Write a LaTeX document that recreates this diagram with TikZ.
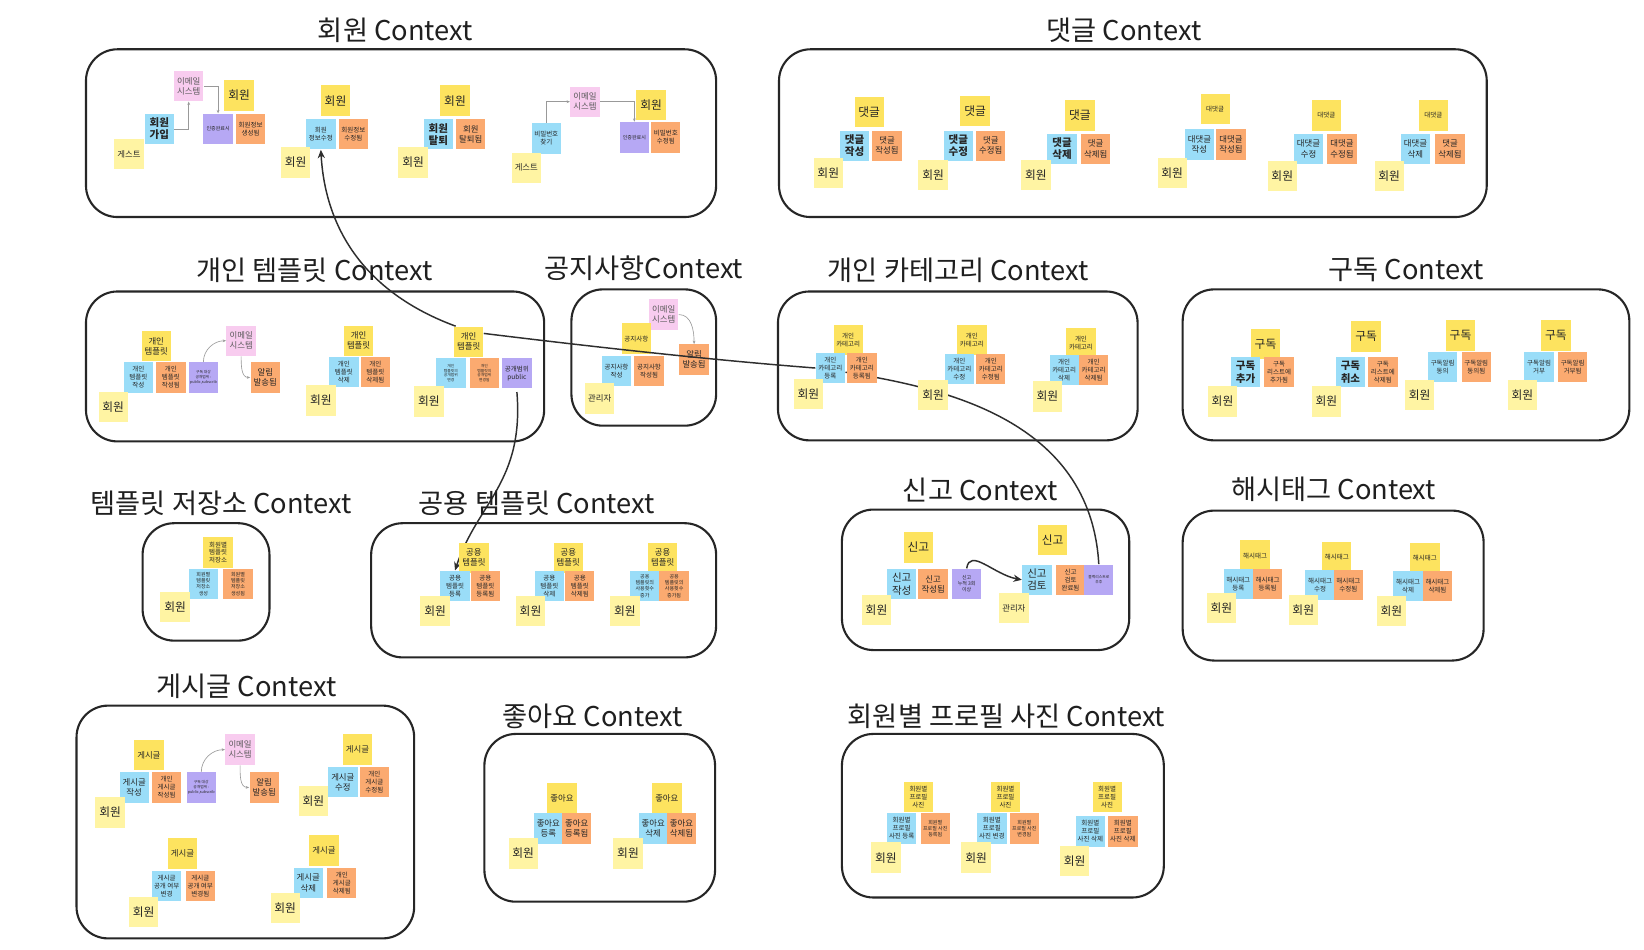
\documentclass[tikz,border=0pt]{standalone}
\usepackage{fontspec}
\setmainfont{Noto Sans CJK KR}
\usetikzlibrary{arrows.meta}
\pgfdeclarelayer{bg}
\pgfsetlayers{bg,main}
\definecolor{cEnt}{HTML}{FDE35F}
\definecolor{cAct}{HTML}{FFF4A3}
\definecolor{cCmd}{HTML}{9ADDF8}
\definecolor{cEvt}{HTML}{FBAA70}
\definecolor{cPol}{HTML}{B6A8F4}
\definecolor{cExt}{HTML}{F8CCEF}
\newcommand\szXL{\fontsize{5.6pt}{6.4pt}\selectfont}
\newcommand\szL{\fontsize{5.0pt}{5.8pt}\selectfont}
\newcommand\szM{\fontsize{4.0pt}{4.8pt}\selectfont}
\newcommand\szS{\fontsize{3.1pt}{3.8pt}\selectfont}
\newcommand\szT{\fontsize{2.4pt}{2.9pt}\selectfont}
\newcommand\szU{\fontsize{1.8pt}{2.2pt}\selectfont}
\tikzset{
  note/.style={minimum width=14pt, minimum height=14.5pt, inner sep=0.2pt, align=center, text=black!85},
  ent/.style={note, fill=cEnt},
  act/.style={note, fill=cAct},
  cmd/.style={note, fill=cCmd},
  evt/.style={note, fill=cEvt},
  pol/.style={note, fill=cPol},
  ext/.style={note, fill=cExt, text=black!65},
  fxl/.style={font=\szXL},
  fl/.style={font=\szL},
  flb/.style={font=\szL\bfseries},
  fm/.style={font=\szM},
  fs/.style={font=\szS},
  ft/.style={font=\szT},
  fu/.style={font=\szU},
  ctxframe/.style={draw=black!85, line width=1pt, rounded corners=15pt},
  ttl/.style={font=\fontsize{13pt}{15pt}\selectfont, text=black!88},
  lnk/.style={draw=black!40, line width=0.3pt, -{Stealth[length=1.6pt,width=1.3pt]}},
  flow/.style={draw=black!82, line width=0.7pt},
  flowarr/.style={flow, -{Stealth[length=4pt,width=3.4pt]}}
}
\begin{document}
\begin{tikzpicture}[x=0.5pt,y=-0.5pt]
\useasboundingbox (0,0) rectangle (1568,906);

% ---------- titles ----------
\node[ttl] (T1) at (377,29) {회원 Context};
\node[ttl] (T2) at (1072,29) {댓글 Context};
\node[ttl] (T3) at (300,258) {개인 템플릿 Context};
\node[ttl] (T4) at (614,256) {공지사항Context};
\node[ttl] (T5) at (914,258) {개인 카테고리 Context};
\node[ttl] (T6) at (1341,257) {구독 Context};
\node[ttl] (T7) at (211,480) {템플릿 저장소 Context};
\node[ttl] (T8) at (512,480) {공용 템플릿 Context};
\node[ttl] (T9) at (935,467) {신고 Context};
\node[ttl] (T10) at (1272,467) {해시태그 Context};
\node[ttl] (T11) at (235,655) {게시글 Context};
\node[ttl] (T12) at (565,683) {좋아요 Context};
\node[ttl] (T13) at (960,683) {회원별 프로필 사진 Context};

% ---------- 회원 Context ----------
\node[ext,fm] (m1x) at (180,82) {이메일\\시스템};
\node[ent,fxl] (m1e) at (228,91) {회원};
\node[cmd,flb] (m1c) at (152,123) {회원\\가입};
\node[pol,ft] (m1p) at (208,123) {인증완료시};
\node[evt,fs] (m1v) at (239,123) {회원정보\\생성됨};
\node[act,fm] (m1a) at (123,147) {게스트};
\node[ent,fxl] (m2e) at (320,96) {회원};
\node[cmd,fs] (m2c) at (306,128) {회원\\정보수정};
\node[evt,fs] (m2v) at (337,128) {회원정보\\수정됨};
\node[act,fxl] (m2a) at (282,155) {회원};
\node[ent,fxl] (m3e) at (434,96) {회원};
\node[cmd,flb] (m3c) at (418,128) {회원\\탈퇴};
\node[evt,fm] (m3v) at (449,128) {회원\\탈퇴됨};
\node[act,fxl] (m3a) at (394,155) {회원};
\node[ext,fm] (m4x) at (558,97) {이메일\\시스템};
\node[ent,fxl] (m4e) at (621,100) {회원};
\node[cmd,fs] (m4c) at (521,132) {비밀번호\\찾기};
\node[pol,ft] (m4p) at (605,131) {인증완료시};
\node[evt,fs] (m4v) at (635,131) {비밀번호\\수정됨};
\node[act,fm] (m4a) at (502,160) {게스트};
\draw[lnk] (m1c.east) -| (m1x.south);
\draw[lnk] (m1x.east) -| (m1p.north);
\draw[lnk] (m4c.north) |- (m4x.west);
\draw[lnk] (m4x.east) -| (m4p.north);

% ---------- 댓글 Context ----------
\node[ent,fxl] (c1e) at (829,107) {댓글};
\node[cmd,flb] (c1c) at (815,139) {댓글\\작성};
\node[evt,fm] (c1v) at (846,139) {댓글\\작성됨};
\node[act,fxl] (c1a) at (790,165) {회원};
\node[ent,fxl] (c2e) at (930,106) {댓글};
\node[cmd,flb] (c2c) at (914,139) {댓글\\수정};
\node[evt,fm] (c2v) at (945,139) {댓글\\수정됨};
\node[act,fxl] (c2a) at (890,167) {회원};
\node[ent,fxl] (c3e) at (1030,110) {댓글};
\node[cmd,flb] (c3c) at (1013,142) {댓글\\삭제};
\node[evt,fm] (c3v) at (1045,142) {댓글\\삭제됨};
\node[act,fxl] (c3a) at (988,167) {회원};
\node[ent,fs] (c4e) at (1159,104) {대댓글};
\node[cmd,fm] (c4c) at (1144,138) {대댓글\\작성};
\node[evt,fm] (c4v) at (1174,138) {대댓글\\작성됨};
\node[act,fxl] (c4a) at (1118,165) {회원};
\node[ent,fs] (c5e) at (1265,110) {대댓글};
\node[cmd,fm] (c5c) at (1248,142) {대댓글\\수정};
\node[evt,fm] (c5v) at (1280,142) {대댓글\\수정됨};
\node[act,fxl] (c5a) at (1223,168) {회원};
\node[ent,fs] (c6e) at (1367,110) {대댓글};
\node[cmd,fm] (c6c) at (1350,142) {대댓글\\삭제};
\node[evt,fm] (c6v) at (1383,142) {댓글\\삭제됨};
\node[act,fxl] (c6a) at (1325,168) {회원};

% ---------- 개인 템플릿 Context ----------
\node[ent,fm] (p1e) at (149,330) {개인\\템플릿};
\node[cmd,fs] (p1c) at (132,360) {개인\\템플릿\\작성};
\node[evt,fs] (p1v) at (163,360) {개인\\템플릿\\작성됨};
\node[pol,fu] (p1p) at (194,360) {구독 대상\\공개범위 :\\public,subscrib};
\node[ext,fm] (p1x) at (230,325) {이메일\\시스템};
\node[evt,fm] (p1n) at (253,360) {알림\\발송됨};
\node[act,fxl] (p1a) at (108,388) {회원};
\node[ent,fm] (p2e) at (342,325) {개인\\템플릿};
\node[cmd,fs] (p2c) at (328,355) {개인\\템플릿\\삭제};
\node[evt,fs] (p2v) at (358,355) {개인\\템플릿\\삭제됨};
\node[act,fxl] (p2a) at (306,382) {회원};
\node[ent,fm] (p3e) at (447,326) {개인\\템플릿};
\node[cmd,fu] (p3c) at (430,356) {개인\\템플릿의\\공개범위\\변경};
\node[evt,fu] (p3v) at (462,356) {개인\\템플릿의\\공개범위\\변경됨};
\node[pol,fs] (p3p) at (493,356) {공개범위\\public};
\node[act,fxl] (p3a) at (409,383) {회원};
\draw[lnk] (p1p.north) to[out=90,in=180] (p1x.west);
\draw[lnk] (p1x.south) to[out=-90,in=180] (p1n.west);

% ---------- 공지사항 Context ----------
\node[ext,fm] (n1x) at (633,300) {이메일\\시스템};
\node[ent,fs] (n1e) at (607,323) {공지사항};
\node[cmd,fs] (n1c) at (588,354) {공지사항\\작성};
\node[evt,fs] (n1v) at (619,354) {공지사항\\작성됨};
\node[evt,fm] (n1n) at (662,343) {알림\\발송됨};
\node[act,fm] (n1a) at (572,380) {관리자};
\draw[lnk] (n1x.east) to[out=0,in=90] (n1n.north);

% ---------- 개인 카테고리 Context ----------
\node[ent,fs] (k1e) at (809,324) {개인\\카테고리};
\node[cmd,fs] (k1c) at (792,351) {개인\\카테고리\\등록};
\node[evt,fs] (k1v) at (822,351) {개인\\카테고리\\등록됨};
\node[act,fxl] (k1a) at (771,376) {회원};
\node[ent,fs] (k2e) at (927,324) {개인\\카테고리};
\node[cmd,fs] (k2c) at (915,352) {개인\\카테고리\\수정};
\node[evt,fs] (k2v) at (945,352) {개인\\카테고리\\수정됨};
\node[act,fxl] (k2a) at (890,377) {회원};
\node[ent,fs] (k3e) at (1031,327) {개인\\카테고리};
\node[cmd,fs] (k3c) at (1015,353) {개인\\카테고리\\삭제};
\node[evt,fs] (k3v) at (1043,353) {개인\\카테고리\\삭제됨};
\node[act,fxl] (k3a) at (999,378) {회원};

% ---------- 구독 Context ----------
\node[ent,fxl] (g1e) at (1207,328) {구독};
\node[cmd,flb] (g1c) at (1188,355) {구독\\추가};
\node[evt,fs] (g1v) at (1220,355) {구독\\리스트에\\추가됨};
\node[act,fxl] (g1a) at (1166,383) {회원};
\node[ent,fxl] (g2e) at (1303,321) {구독};
\node[cmd,flb] (g2c) at (1288,355) {구독\\취소};
\node[evt,fs] (g2v) at (1319,355) {구독\\리스트에\\삭제됨};
\node[act,fxl] (g2a) at (1265,383) {회원};
\node[ent,fxl] (g3e) at (1393,320) {구독};
\node[cmd,fs] (g3c) at (1376,350) {구독알림\\동의};
\node[evt,fs] (g3v) at (1408,350) {구독알림\\동의됨};
\node[act,fxl] (g3a) at (1354,377) {회원};
\node[ent,fxl] (g4e) at (1484,320) {구독};
\node[cmd,fs] (g4c) at (1468,350) {구독알림\\거부};
\node[evt,fs] (g4v) at (1500,350) {구독알림\\거부됨};
\node[act,fxl] (g4a) at (1452,377) {회원};

% ---------- 템플릿 저장소 Context ----------
\node[ent,fs] (r1e) at (208,527) {회원별\\템플릿\\저장소};
\node[cmd,ft] (r1c) at (194,557) {회원별\\템플릿\\저장소\\생성};
\node[evt,ft] (r1v) at (227,557) {회원별\\템플릿\\저장소\\생성됨};
\node[act,fxl] (r1a) at (167,579) {회원};

% ---------- 공용 템플릿 Context ----------
\node[ent,fm] (u1e) at (452,532) {공용\\템플릿};
\node[cmd,fs] (u1c) at (434,559) {공용\\템플릿\\등록};
\node[evt,fs] (u1v) at (463,559) {공용\\템플릿\\등록됨};
\node[act,fxl] (u1a) at (415,583) {회원};
\node[ent,fm] (u2e) at (542,532) {공용\\템플릿};
\node[cmd,fs] (u2c) at (524,559) {공용\\템플릿\\삭제};
\node[evt,fs] (u2v) at (553,559) {공용\\템플릿\\삭제됨};
\node[act,fxl] (u2a) at (506,583) {회원};
\node[ent,fm] (u3e) at (632,532) {공용\\템플릿};
\node[cmd,ft] (u3c) at (615,559) {공용\\템플릿의\\사용횟수\\증가};
\node[evt,ft] (u3v) at (643,559) {공용\\템플릿의\\사용횟수\\증가됨};
\node[act,fxl] (u3a) at (596,583) {회원};

% ---------- 신고 Context ----------
\node[ent,fxl] (s1e) at (876,522) {신고};
\node[cmd,fl] (s1c) at (860,557) {신고\\작성};
\node[evt,fm] (s1v) at (890,557) {신고\\작성됨};
\node[pol,ft] (s1p) at (922,557) {신고\\누적 3회\\이상};
\node[act,fxl] (s1a) at (836,582) {회원};
\node[ent,fxl] (s2e) at (1004,515) {신고};
\node[cmd,fl] (s2c) at (989,553) {신고\\검토};
\node[evt,fs] (s2v) at (1021,553) {신고\\검토\\완료됨};
\node[pol,fu] (s2p) at (1048,553) {블랙리스트로\\추후};
\node[act,fm] (s2a) at (967,580) {관리자};
\draw[flowarr] (s1p.north) .. controls (925,522) and (948,548) .. (s2c.west);

% ---------- 해시태그 Context ----------
\node[ent,fs] (h1e) at (1197,530) {해시태그};
\node[cmd,fs] (h1c) at (1181,557) {해시태그\\등록};
\node[evt,fs] (h1v) at (1209,557) {해시태그\\등록됨};
\node[act,fxl] (h1a) at (1165,580) {회원};
\node[ent,fs] (h2e) at (1275,531) {해시태그};
\node[cmd,fs] (h2c) at (1259,558) {해시태그\\수정};
\node[evt,fs] (h2v) at (1286,558) {해시태그\\수정됨};
\node[act,fxl] (h2a) at (1243,582) {회원};
\node[ent,fs] (h3e) at (1359,532) {해시태그};
\node[cmd,fs] (h3c) at (1343,559) {해시태그\\삭제};
\node[evt,fs] (h3v) at (1371,559) {해시태그\\삭제됨};
\node[act,fxl] (h3a) at (1327,583) {회원};

% ---------- 게시글 Context ----------
\node[ent,fm] (b1e) at (142,720) {게시글};
\node[cmd,fm] (b1c) at (128,751) {게시글\\작성};
\node[evt,fs] (b1v) at (159,751) {개인\\게시글\\작성됨};
\node[pol,fu] (b1p) at (192,751) {구독 대상\\공개범위 :\\public,subscrib};
\node[ext,fm] (b1x) at (229,715) {이메일\\시스템};
\node[evt,fm] (b1n) at (252,751) {알림\\발송됨};
\node[act,fxl] (b1a) at (105,775) {회원};
\node[ent,fm] (b2e) at (341,715) {게시글};
\node[cmd,fm] (b2c) at (327,746) {게시글\\수정};
\node[evt,fs] (b2v) at (357,746) {개인\\게시글\\수정됨};
\node[act,fxl] (b2a) at (299,764) {회원};
\node[ent,fm] (b3e) at (174,814) {게시글};
\node[cmd,fs] (b3c) at (159,845) {게시글\\공개 여부\\변경};
\node[evt,fs] (b3v) at (191,845) {게시글\\공개 여부\\변경됨};
\node[act,fxl] (b3a) at (137,870) {회원};
\node[ent,fm] (b4e) at (309,811) {게시글};
\node[cmd,fm] (b4c) at (294,842) {게시글\\삭제};
\node[evt,fs] (b4v) at (326,842) {개인\\게시글\\삭제됨};
\node[act,fxl] (b4a) at (272,866) {회원};
\draw[lnk] (b1p.north) to[out=90,in=180] (b1x.west);
\draw[lnk] (b1x.south) to[out=-90,in=180] (b1n.west);

% ---------- 좋아요 Context ----------
\node[ent,fm] (l1e) at (536,761) {좋아요};
\node[cmd,fm] (l1c) at (523,790) {좋아요\\등록};
\node[evt,fm] (l1v) at (550,790) {좋아요\\등록됨};
\node[act,fxl] (l1a) at (499,814) {회원};
\node[ent,fm] (l2e) at (636,761) {좋아요};
\node[cmd,fm] (l2c) at (623,790) {좋아요\\삭제};
\node[evt,fm] (l2v) at (650,790) {좋아요\\삭제됨};
\node[act,fxl] (l2a) at (599,814) {회원};

% ---------- 회원별 프로필 사진 Context ----------
\node[ent,fs] (f1e) at (876,760) {회원별\\프로필\\사진};
\node[cmd,fs] (f1c) at (860,790) {회원별\\프로필\\사진 등록};
\node[evt,ft] (f1v) at (892,790) {회원별\\프로필 사진\\등록됨};
\node[act,fxl] (f1a) at (845,818) {회원};
\node[ent,fs] (f2e) at (959,760) {회원별\\프로필\\사진};
\node[cmd,fs] (f2c) at (946,790) {회원별\\프로필\\사진 변경};
\node[evt,ft] (f2v) at (977,790) {회원별\\프로필 사진\\변경됨};
\node[act,fxl] (f2a) at (931,818) {회원};
\node[ent,fs] (f3e) at (1056,760) {회원별\\프로필\\사진};
\node[cmd,fs] (f3c) at (1040,793) {회원별\\프로필\\사진 삭제};
\node[evt,fs] (f3v) at (1071,793) {회원별\\프로필\\사진 삭제};
\node[act,fxl] (f3a) at (1025,821) {회원};

% ---------- long flow lines ----------
\draw[flow] ([yshift=4pt]p3e.east) .. controls (600,335) and (700,345) .. (k1c.west);

\begin{pgfonlayer}{bg}
  \fill[white] (0,0) rectangle (1568,906);
  \draw[ctxframe] (82,47) rectangle (683,207);
  \draw[ctxframe] (743,47) rectangle (1418,207);
  \draw[ctxframe] (82,278) rectangle (519,421);
  \draw[ctxframe] (545,276) rectangle (683,406);
  \draw[ctxframe] (742,278) rectangle (1085,420);
  \draw[ctxframe] (1128,276) rectangle (1554,420);
  \draw[ctxframe] (136,499) rectangle (257,611);
  \draw[ctxframe] (354,499) rectangle (683,627);
  \draw[ctxframe] (803,486) rectangle (1077,620);
  \draw[ctxframe] (1128,487) rectangle (1415,630);
  \draw[ctxframe] (73,673) rectangle (395,895);
  \draw[ctxframe] (462,700) rectangle (682,860);
  \draw[ctxframe] (803,700) rectangle (1110,856);
  \draw[flowarr] ([xshift=1pt]p3e.north west) .. controls (345,278) and (310,215) .. (m2c.south);
  \draw[flow] ([yshift=-2pt]k1c.east) .. controls (900,370) and (1040,400) .. (s2p.north);
  \draw[flowarr] ([yshift=-1.5pt]p3p.south) .. controls (500,460) and (455,480) .. (u1c.north);
\end{pgfonlayer}
\end{tikzpicture}
\end{document}
